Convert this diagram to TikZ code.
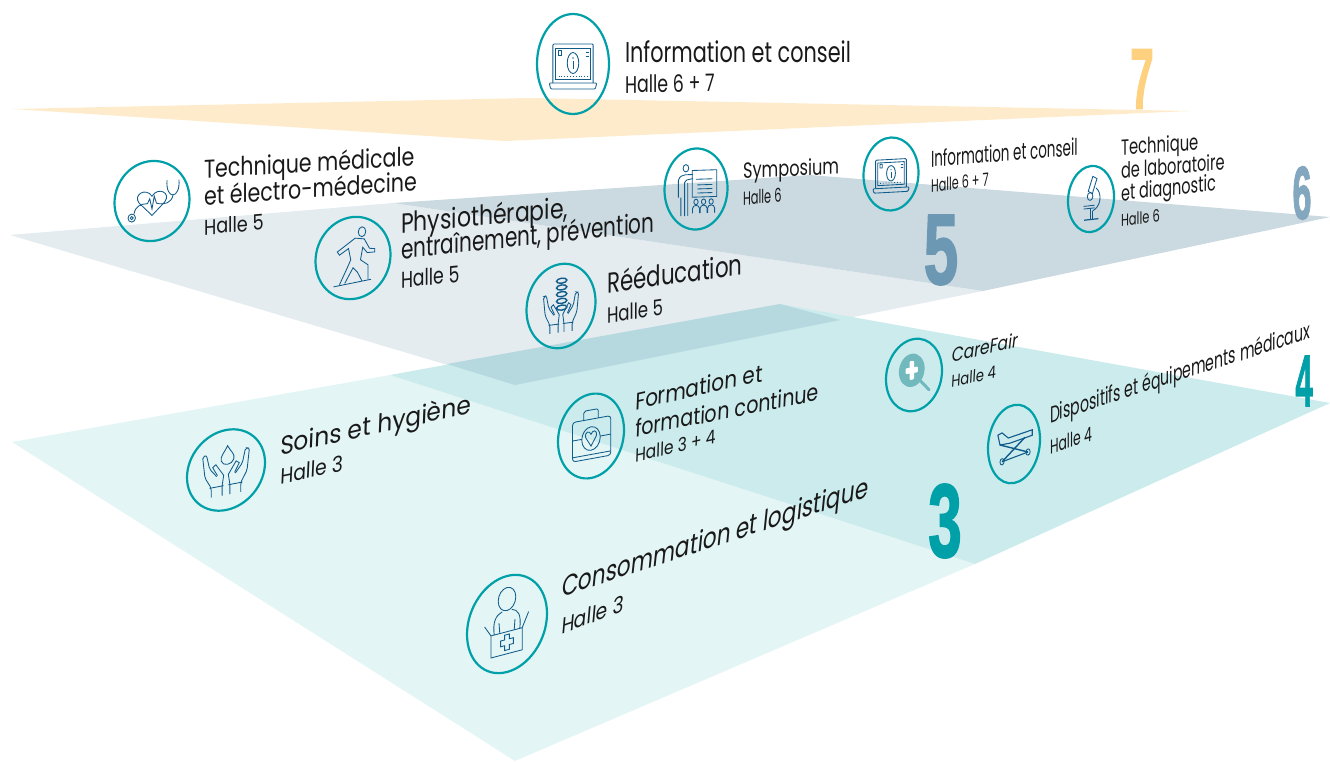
\documentclass[tikz,border=0pt]{standalone}
\usepackage{fontspec}
\setmainfont{Poppins}
\newfontfamily\numfont{Liberation Sans}[BoldFeatures={FakeBold=2}]
\definecolor{floorthree}{HTML}{E4F5F5}
\definecolor{floorfour}{HTML}{CCEBED}
\definecolor{floorfive}{HTML}{E4ECF0}
\definecolor{floorsix}{HTML}{CBD9E1}
\definecolor{floorseven}{HTML}{FDEBCB}
\definecolor{flooroverlap}{HTML}{B6D8DF}
\definecolor{numseven}{HTML}{FDD17F}
\definecolor{numsix}{HTML}{82A7BE}
\definecolor{numfive}{HTML}{6C98B3}
\definecolor{teal}{HTML}{00A0A8}
\definecolor{lens}{HTML}{71B9BC}
\definecolor{iconblue}{HTML}{0F5B8A}
\tikzset{
	ring/.style={circle, draw=teal, line width=2.2pt, minimum size=100pt, inner sep=0pt, outer sep=0pt, transform shape},
	icon/.style={draw=iconblue, line width=.85pt},
	txt/.style n args={4}{font=\fontsize{20}{24}\selectfont, text=black!90, inner sep=0pt, outer sep=0pt, anchor=base west, transform shape, cm={#1,#2,#3,#4,(0,0)}},
	bignum/.style={font=\numfont\bfseries\fontsize{100}{100}\selectfont, inner sep=0pt, outer sep=0pt, transform shape}
}
\newcommand{\iconlaptop}{
	\draw[icon, rounded corners=1pt] (-28,19) |- (28,-20) -- (28,19);
	\draw[icon] (-24,15) rectangle (24,-16);
	\draw[icon, rounded corners=1pt] (-33,19) -- (33,19) -- (31,25) -- (-31,25) -- cycle;
	\draw[icon] (0,-1) ellipse (8 and 10.5);
	\draw[icon] (0,-3) -- (0,5);
	\fill[iconblue] (0,-6) circle (1);
	\draw[icon, dotted] (-20,12) -- (20,12);
	\draw[icon] (-20,-14) rectangle (-16,-9);
	\draw[icon] (18,-12) -- (22,-12) (18,-8) -- (22,-8);
}
\newcommand{\iconheart}{
	\draw[icon] (0,18) -- (-17,2) .. controls (-26,-9) and (-8,-18) .. (0,-6) .. controls (8,-18) and (26,-9) .. (17,2) -- cycle;
	\draw[icon] (-27,20) circle (5);
	\draw[icon] (-27,20) circle (2);
	\draw[icon] (-24,15) .. controls (-22,5) and (-15,3) .. (-6,3) -- (-3,-3) -- (0,10) -- (3,-6) -- (6,3) .. controls (16,6) and (26,4) .. (28,-6);
	\draw[icon] (20,-25) .. controls (18,0) and (38,0) .. (36,-25);
}
\newcommand{\iconrunner}{
	\draw[icon] (12,-31) ellipse (5 and 6);
	\draw[icon] (3,-24) -- (15,-22) -- (22,-10) -- (29,-9) -- (29,-5) -- (19,-5) -- (13,-12) -- (10,3) -- (20,10) -- (20,28);
	\draw[icon] (3,-24) -- (-21,-9) -- (-18,-5) -- (-6,-12) -- (-3,2) -- (-8,12) -- (-18,31);
	\draw[icon] (-11,30) -- (0,12) -- (6,18) -- (12,29);
	\draw[icon] (-26,33) -- (24,28);
}
\newcommand{\onehand}{
	\draw[icon] (5,31) -- (5,19) -- (3,6) -- (13,-9) -- (17,-6) -- (11,5);
	\draw[icon, rounded corners=2pt] (19,31) -- (19,19) -- (27,5) -- (30,-22) -- (25,-23) -- (21,-5) -- (12,6);
	\draw[icon] (3,19) -- (21,19);
}
\newcommand{\twohands}{
	\onehand
	\begin{scope}[xscale=-1]\onehand\end{scope}
}
\newcommand{\iconspine}{
	\begin{scope}[shift={(0,5)}, scale=.85]\twohands\end{scope}
	\foreach \vy in {-30,-22,-14,-6,2} \draw[icon, line width=1.4pt, fill=floorfive] (1,\vy) ellipse (7.5 and 3);
}
\newcommand{\icondrop}{
	\twohands
	\draw[icon] (2,-30) .. controls (-2,-22) and (-8,-18) .. (-6,-12) .. controls (-4,-5) and (8,-5) .. (10,-12) .. controls (12,-18) and (6,-22) .. (2,-30) -- cycle;
}
\newcommand{\iconsymposium}{
	\draw[icon] (-16,-26) circle (4.5);
	\draw[icon] (-6,-23) rectangle (33,10);
	\draw[icon] (0,-12) -- (26,-12) (2,-5) -- (26,-5) (2,0) -- (26,0) (2,5) -- (26,5);
	\draw[icon, rounded corners=2pt] (-28,10) -- (-28,-14) -- (-20,-18) -- (-5,-18) (-5,-13) -- (-18,-11) -- (-18,33) (-24,10) -- (-24,33) (-13,-8) -- (-13,33);
	\foreach \hx in {0,12,24} {
		\draw[icon] (\hx,16) circle (3.4);
		\draw[icon] (\hx-5.5,30) -- (\hx-5.5,24) .. controls (\hx-5,19) and (\hx+5,19) .. (\hx+5.5,24) -- (\hx+5.5,30);
	}
}
\newcommand{\iconmicroscope}{
	\draw[icon] (4,-34) -- (13,-30) -- (3,-8) -- (-6,-12) -- cycle;
	\draw[icon] (-2,-4) circle (6);
	\draw[icon] (11,-16) .. controls (26,-6) and (20,14) .. (4,18);
	\draw[icon] (-16,10) -- (8,10) (-16,14) -- (8,14);
	\draw[icon] (-2,14) -- (-2,30) (3,18) -- (3,30);
	\draw[icon, line width=1.2pt] (-15,31) -- (16,31);
}
\newcommand{\iconlens}{
	\fill[lens] (-4,-7) circle (23);
	\draw[lens, line width=3pt, line cap=round] (12,10) -- (27,24);
	\fill[white, rounded corners=1pt] (-8,-20) rectangle (0,6);
	\fill[white, rounded corners=1pt] (-15,-11) rectangle (7,-3);
}
\newcommand{\iconstretcher}{
	\draw[icon, line width=1.1pt] (-31,-15) -- (-23,-17) -- (-11,-9) -- (35,-14) -- (35,-7) -- (-8,-2) -- (-27,-2) -- cycle;
	\draw[icon, line width=1.4pt] (-23,20) -- (21,-6) (-27,-2) -- (27,13.5);
	\draw[icon, line width=1.1pt] (-23,20) -- (27,13.5);
	\draw[icon] (-23,20) circle (4);
	\draw[icon] (27,13.5) circle (4);
}
\newcommand{\iconcase}{
	\draw[icon, rounded corners=3pt] (-28,-20) rectangle (30,27);
	\draw[icon, rounded corners=2pt] (-11,-20) -- (-11,-31) -- (11,-31) -- (11,-20);
	\draw[icon] (-28,2) -- (-14,2) (14,2) -- (30,2) (-28,22) -- (30,22);
	\draw[icon] (0,3) circle (14);
	\draw[icon] (0,12) -- (-8,1) .. controls (-10,-7) and (-2,-7) .. (0,-2) .. controls (2,-7) and (10,-7) .. (8,1) -- cycle;
}
\newcommand{\iconbox}{
	\draw[icon] (0,-26) ellipse (11 and 12);
	\draw[icon] (-16,8) .. controls (-18,-6) and (-14,-12) .. (-6,-14);
	\draw[icon] (16,8) .. controls (18,-6) and (14,-12) .. (6,-14);
	\draw[icon] (-9,8) -- (-10,-3) (9,8) -- (10,-3);
	\draw[icon] (-20,8) rectangle (19,31);
	\draw[icon] (-20,8) -- (-28,-3) (19,8) -- (27,-7);
	\draw[icon] (-3,11) -- (3,11) -- (3,16) -- (8,16) -- (8,22) -- (3,22) -- (3,27) -- (-3,27) -- (-3,22) -- (-8,22) -- (-8,16) -- (-3,16) -- cycle;
}

\begin{document}
\begin{tikzpicture}[x=1pt, y=-1pt]
	\useasboundingbox (0,0) rectangle (1330,761);
	% floors
	\fill[floorseven] (13,109) -- (530,98) -- (1190,111) -- (505,141) -- cycle;
	\fill[floorfive] (10,235) -- (393,203) -- (983,291) -- (515,385) -- cycle;
	\fill[floorsix] (393,203) -- (810,175) -- (1330,217) -- (983,291) -- cycle;
	\fill[floorthree] (12,442) -- (390,375) -- (975,564) -- (515,761) -- cycle;
	\fill[floorfour] (390,375) -- (780,304) -- (1330,403) -- (975,564) -- cycle;
	\fill[flooroverlap] (447,364) -- (780,304) -- (840,320) -- (515,385) -- cycle;

	% floor numbers
	\node[bignum, text=numseven, xscale=.42, yscale=.86] (numA) at (1142,79) {7};
	\node[bignum, text=numsix, xscale=.34, yscale=.75] (numB) at (1302,193) {6};
	\node[bignum, text=numfive, xscale=.62, yscale=1] (numC) at (941,250) {5};
	\node[bignum, text=teal, xscale=.31, yscale=.73] (numD) at (1304,381) {4};
	\node[bignum, text=teal, xscale=.6, yscale=1.04] (numE) at (945,521) {3};

	% rings with their icons
	\foreach \ringname/\ca/\cb/\cd/\sx/\sy/\ico in {
		ringinfo/.72/0/1/573/64/\iconlaptop,
		ringtech/.75/.04/.80/152/201/\iconheart,
		ringphys/.75/.07/.82/353/258/\iconrunner,
		ringreed/.69/.09/.84/561/306/\iconspine,
		ringsymp/.63/.02/.81/696/189/\iconsymposium,
		ringconseil/.55/.03/.73/891/174/\iconlaptop,
		ringlabo/.46/.05/.66/1091/199/\iconmicroscope,
		ringcare/.56/.09/.72/914/375/\iconlens,
		ringdisp/.52/.094/.78/1014/444/\iconstretcher,
		ringform/.66/.12/.84/591/436/\iconcase,
		ringsoins/.78/.15/.80/226/470/\icondrop,
		ringcons/.80/.21/.96/507/624/\iconbox} {
		\begin{scope}[cm={\ca,\cb,0,\cd,(\sx,\sy)}]
			\node[ring] (\ringname) at (0,0) {};
			\ico
		\end{scope}
	}

	% floor 7
	\node[txt={1.04}{0}{0}{1.43}] (infoA) at (625,62) {Information et conseil};
	\node[txt={.87}{.015}{0}{1.2}] (infoH) at (625,93) {Halle 6 + 7};
	% floor 5
	\node[txt={1.03}{.059}{0}{1.29}] (techA) at (204,178) {Technique médicale};
	\node[txt={1.03}{.07}{0}{1.29}] (techB) at (204,205) {et électro-médecine};
	\node[txt={.885}{.075}{0}{1.07}] (techH) at (204,235) {Halle 5};
	\node[txt={1.1}{.101}{0}{1.38}] (physA) at (401,233) {Physiothérapie,};
	\node[txt={1}{.107}{0}{1.38}] (physB) at (401,259) {entraînement, prévention};
	\node[txt={.865}{.087}{0}{1.15}] (physH) at (401,288) {Halle 5};
	\node[txt={1.07}{.143}{0}{1.43}] (reedA) at (607,293) {Rééducation};
	\node[txt={.83}{.116}{0}{1.1}] (reedH) at (607,323) {Halle 5};
	% floor 6
	\node[txt={.81}{.033}{0}{1.1}] (sympA) at (743,178) {Symposium};
	\node[txt={.57}{.04}{0}{.95}] (sympH) at (743,205) {Halle 6};
	\node[txt={.675}{.054}{0}{1.15}] (consA) at (931,167) {Information et conseil};
	\node[txt={.56}{.056}{0}{.9}] (consH) at (931,192) {Halle 6 + 7};
	\node[txt={.74}{.048}{0}{1.1}] (laboA) at (1121,155) {Technique};
	\node[txt={.73}{.058}{0}{1.1}] (laboB) at (1121,178) {de laboratoire};
	\node[txt={.725}{.083}{0}{1.1}] (laboC) at (1121,201) {et diagnostic};
	\node[txt={.575}{.058}{0}{.85}] (laboH) at (1121,226) {Halle 6};
	% floor 4
	\node[txt={.78}{.17}{.12}{1}] (careA) at (951,362) {CareFair};
	\node[txt={.66}{.13}{.05}{.85}] (careH) at (951,387) {Halle 4};
	\node[txt={.706}{.23}{0}{1.15}] (dispA) at (1050,423) {Dispositifs et équipements médicaux};
	\node[txt={.62}{.2}{0}{1}] (dispH) at (1050,454) {Halle 4};
	\node[txt={1}{.225}{.05}{1.2}] (formA) at (635,410) {Formation et};
	\node[txt={.955}{.19}{.05}{1.2}] (formB) at (635,437) {formation continue};
	\node[txt={.775}{.18}{.03}{.95}] (formH) at (635,462) {Halle 3 + 4};
	% floor 3
	\node[txt={1.17}{.257}{.05}{1.3}] (soinA) at (280,455) {Soins et hygiène};
	\node[txt={.94}{.19}{.05}{1.1}] (soinH) at (280,484) {Halle 3};
	\node[txt={1.077}{.351}{.15}{1.45}] (consB) at (561,597) {Consommation et logistique};
	\node[txt={.93}{.33}{.1}{1.15}] (consC) at (561,634) {Halle 3};
\end{tikzpicture}
\end{document}
